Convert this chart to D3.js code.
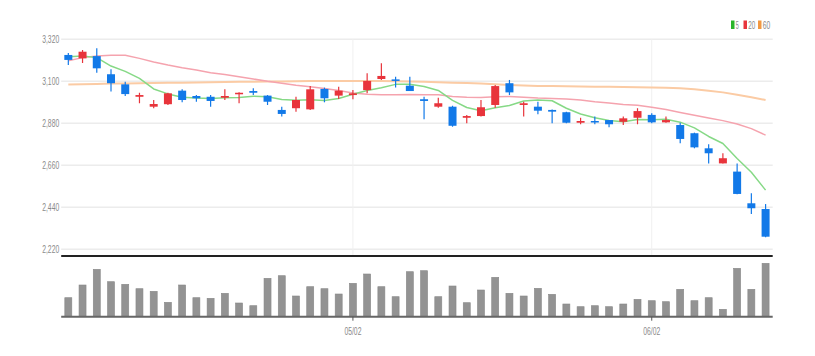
<!DOCTYPE html>
<html>
<head>
<meta charset="utf-8">
<script src="https://cdn.jsdelivr.net/npm/d3@7"></script>
<style>
  html, body { margin: 0; padding: 0; background: #fff; }
  svg { display: block; }
  text { font-family: "Liberation Sans", "DejaVu Sans", sans-serif; }
</style>
</head>
<body>
<svg id="chart" width="815" height="356"></svg>
<script>
const dates = ["04/04","04/05","04/06","04/07","04/08","04/11","04/12","04/13","04/14","04/15",
  "04/18","04/19","04/20","04/21","04/22","04/25","04/26","04/27","04/28","04/29",
  "05/02","05/03","05/04","05/06","05/09","05/10","05/11","05/12","05/13","05/16",
  "05/17","05/18","05/19","05/20","05/23","05/24","05/25","05/26","05/27","05/30",
  "05/31","06/02","06/03","06/07","06/08","06/09","06/10","06/13","06/14","06/15"];
const opens  = [3238,3220,3232,3137,3084,3019,2967,2980,3051,3023,3019,3014,3032,3049,3025,2950,2959,2953,3060,3025,
  3028,3054,3112,3110,3077,3006,2967,2967,2909,2918,2976,3090,2976,2967,2950,2938,2883,2892,2897,2888,
  2909,2924,2885,2871,2828,2749,2670,2627,2461,2431];
const highs  = [3248,3264,3273,3163,3098,3040,3002,3040,3058,3028,3028,3058,3042,3063,3028,2967,3019,3075,3067,3072,
  3054,3142,3194,3124,3124,3019,3014,2972,2923,3002,3081,3107,2993,2993,2952,2941,2909,2915,2897,2915,
  2959,2932,2915,2883,2831,2770,2723,2670,2513,2457];
const lows   = [3185,3196,3145,3046,3023,2985,2959,2976,2990,2993,2967,3002,2985,3028,2976,2915,2941,2950,2990,3007,
  3006,3037,3107,3067,3049,2901,2962,2862,2880,2915,2962,3028,2915,2927,2880,2880,2875,2875,2859,2871,
  2875,2880,2883,2775,2749,2670,2670,2508,2405,2283];
const closes = [3212,3255,3168,3090,3033,3028,2981,3037,3002,3011,2997,3023,3040,3040,2993,2929,3002,3058,3011,3051,
  3037,3102,3128,3102,3049,2997,2985,2867,2918,2964,3075,3042,2985,2946,2941,2883,2892,2885,2875,2906,
  2944,2885,2897,2798,2754,2723,2697,2510,2435,2286];
const volumes = [190,317,474,350,324,280,254,144,317,190,184,234,137,110,384,410,207,300,280,227,
  334,427,300,200,450,460,200,307,140,267,394,234,207,284,224,127,100,110,100,127,
  174,160,150,274,160,190,74,484,274,534];
const ma5  = [3229,3232,3224,3180,3152,3115,3060,3034,3016,3012,3010,3014,3015,3022,3019,3005,3001,3004,2999,3010,
  3032,3052,3066,3084,3084,3073,3052,3000,2963,2946,2962,2973,2997,3002,2998,2959,2929,2909,2895,2888,
  2900,2899,2901,2886,2856,2811,2774,2696,2624,2530];
const ma20 = [3208,3224,3233,3236,3236,3220,3201,3185,3171,3159,3145,3135,3124,3112,3100,3090,3079,3072,3062,3052,
  3039,3032,3030,3030,3031,3030,3030,3021,3017,3015,3019,3020,3017,3012,3010,3007,3002,2993,2986,2979,
  2974,2964,2952,2937,2922,2908,2894,2876,2852,2818];
const ma60 = [3083,3085,3086,3088,3089,3090,3091,3092,3093,3094,3095,3096,3097,3098,3099,3099,3100,3101,3101,3102,
  3102,3101,3101,3100,3099,3097,3095,3093,3091,3088,3085,3081,3078,3076,3075,3074,3073,3072,3071,3070,
  3069,3068,3066,3063,3058,3051,3042,3030,3017,3002];
const priceTicks = [2220,2440,2660,2880,3100,3320];
const dateTicks = ["05/02","06/02"];
const legendLabels = ["5","20","60"];

const UP = "#e8343b", DOWN = "#1279e8";
const maColors = ["#86d986","#f5a3ae","#fbcba4"];
const legendColors = ["#2ab52a","#e8343b","#f29840"];
const TXT = "#8a8a8a";

const svg = d3.select("#chart");
const L = 61.2, R = 772.7;
const x = d3.scaleBand().domain(dates).range([L, R]).padding(0);
const cx = d => x(d) + x.bandwidth() / 2;
const y = d3.scaleLinear().domain([2220, 3320]).range([249.3, 39.3]);
const yv = d3.scaleLinear().domain([0, 560]).range([316.7, 260.7]);

// horizontal gridlines
svg.append("g").selectAll("line").data(priceTicks).join("line")
  .attr("x1", L).attr("x2", R)
  .attr("y1", d => y(d)).attr("y2", d => y(d))
  .attr("stroke", "#ececec").attr("stroke-width", 1.5);
// vertical gridlines
svg.append("g").selectAll("line").data(dateTicks).join("line")
  .attr("x1", d => cx(d)).attr("x2", d => cx(d))
  .attr("y1", y(3320)).attr("y2", 256)
  .attr("stroke", "#f0f0f0").attr("stroke-width", 1);

// y axis labels
const yAxis = d3.axisLeft(y).tickValues(priceTicks).tickSize(0).tickPadding(2).tickFormat(d3.format(","));
const gy = svg.append("g").attr("transform", `translate(${L},0)`).call(yAxis);
gy.select(".domain").remove();
gy.selectAll("text").attr("fill", TXT).style("font-size", "11px")
  .attr("textLength", 17).attr("lengthAdjust", "spacingAndGlyphs");

// MA lines
const series = [ma60, ma20, ma5];
const serColors = [maColors[2], maColors[1], maColors[0]];
const serWidths = [2, 1.5, 1.5];
series.forEach((s, k) => {
  const line = d3.line().x((v, i) => cx(dates[i])).y(v => y(v));
  svg.append("path").datum(s).attr("d", line)
    .attr("fill", "none").attr("stroke", serColors[k]).attr("stroke-width", serWidths[k])
    .attr("stroke-linejoin", "round");
});

// candles
const bw = 8;
const candles = svg.append("g").selectAll("g").data(dates).join("g");
candles.append("line")
  .attr("x1", (d) => cx(d)).attr("x2", (d) => cx(d))
  .attr("y1", (d, i) => y(highs[i])).attr("y2", (d, i) => y(lows[i]))
  .attr("stroke", (d, i) => closes[i] >= opens[i] ? UP : DOWN).attr("stroke-width", 1.2);
candles.append("rect")
  .attr("x", d => cx(d) - bw / 2).attr("width", bw)
  .attr("y", (d, i) => y(Math.max(opens[i], closes[i])))
  .attr("height", (d, i) => Math.max(1.5, Math.abs(y(opens[i]) - y(closes[i]))))
  .attr("fill", (d, i) => closes[i] >= opens[i] ? UP : DOWN);

// separator line
svg.append("line").attr("x1", L).attr("x2", R).attr("y1", 256).attr("y2", 256)
  .attr("stroke", "#222").attr("stroke-width", 2);

// volume bars
svg.append("g").selectAll("rect").data(dates).join("rect")
  .attr("x", d => cx(d) - 3.5).attr("width", 7)
  .attr("y", (d, i) => yv(volumes[i])).attr("height", (d, i) => yv(0) - yv(volumes[i]))
  .attr("fill", "#939393").attr("stroke", "#888").attr("stroke-width", 0.6);

// x axis
const xAxis = d3.axisBottom(x).tickValues(dateTicks).tickSize(4).tickPadding(7);
const gx = svg.append("g").attr("transform", `translate(0,${yv(0)})`).call(xAxis);
gx.select(".domain").attr("stroke", "#666").attr("stroke-width", 2).attr("d", `M${L},0H${R}`);
gx.selectAll(".tick line").attr("stroke", "#555");
gx.selectAll("text").attr("fill", TXT).style("font-size", "11px")
  .attr("textLength", 17).attr("lengthAdjust", "spacingAndGlyphs");

// legend
const lg = svg.append("g");
const legendX = [731, 743.5, 758];
const legendW = [3, 7, 7.5];
legendLabels.forEach((t, k) => {
  lg.append("rect").attr("x", legendX[k]).attr("y", 20.5).attr("width", 3.5).attr("height", 8.5)
    .attr("fill", legendColors[k]);
  lg.append("text").attr("x", legendX[k] + 4.8).attr("y", 29).text(t)
    .attr("fill", TXT).style("font-size", "11px")
    .attr("textLength", legendW[k]).attr("lengthAdjust", "spacingAndGlyphs");
});
</script>
</body>
</html>
